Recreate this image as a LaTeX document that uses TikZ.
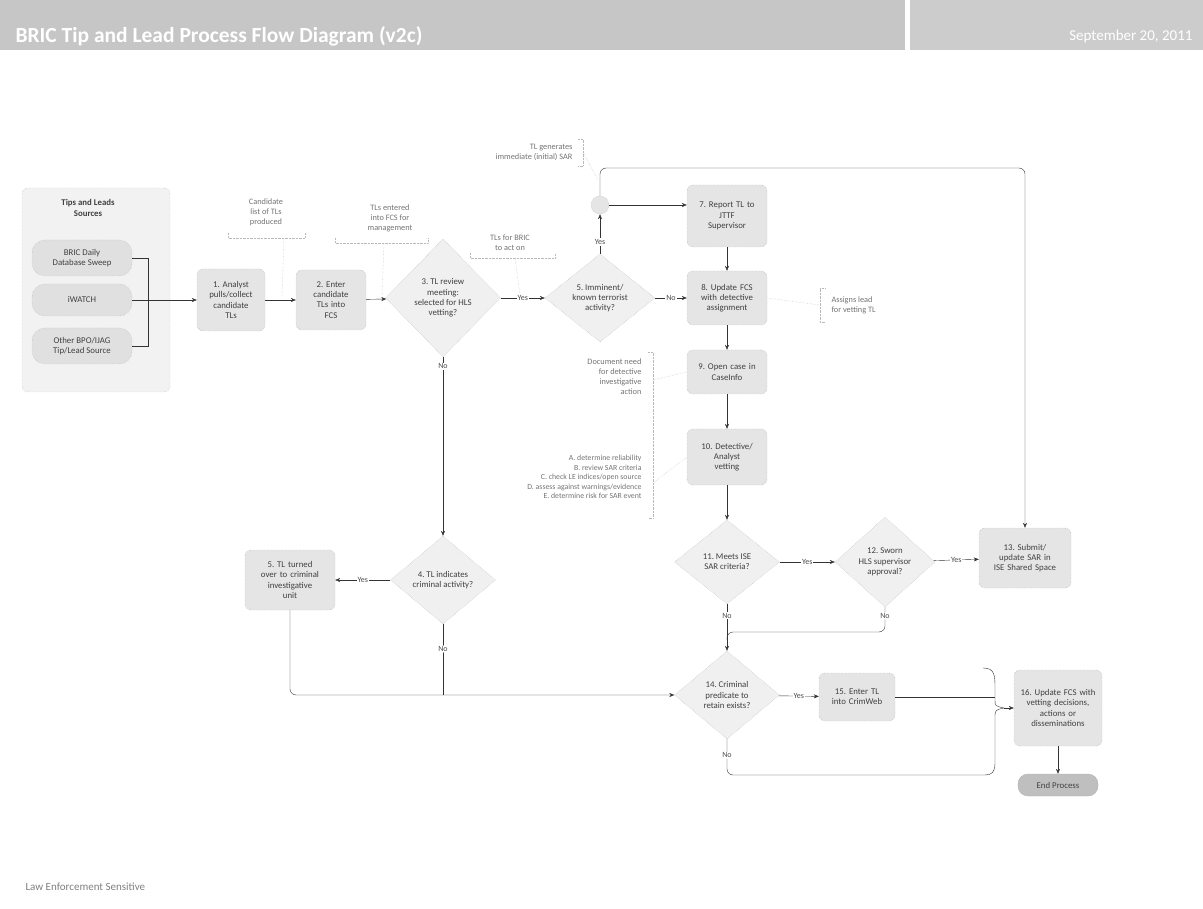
\documentclass[tikz,border=0pt]{standalone}
\usepackage{fontspec}
\setmainfont{Carlito}
\usetikzlibrary{shapes.geometric, arrows.meta, positioning, calc}
\frenchspacing

\begin{document}
\begin{tikzpicture}[
    x=1pt, y=-1pt,
    font=\fontsize{8.8}{10.2}\selectfont,
    stepbox/.style={rectangle, draw=gray!70, densely dotted, fill=gray!20, rounded corners=6pt, align=center, minimum width=80pt, minimum height=54pt, text width=76pt, inner sep=2pt, text=black!75},
    decision/.style={diamond, draw=gray!60, densely dotted, fill=gray!12, align=center, inner sep=0pt, minimum width=108pt, minimum height=88pt, text=black!75},
    source/.style={rectangle, rounded corners=13pt, draw=gray!60, densely dotted, fill=gray!24, minimum width=100pt, minimum height=36pt, align=center, text=black!75},
    note/.style={align=center, text=black!55, font=\fontsize{8.3}{10}\selectfont},
    arrow/.style={-{Stealth[length=5pt, width=4pt]}, black!80, thin},
    flow/.style={black!80, thin},
    bracket/.style={gray!55, densely dotted},
    lbl/.style={fill=white, inner sep=1pt, text=black!70, font=\fontsize{8}{9}\selectfont},
]
\useasboundingbox (0,0) rectangle (1203,909);

% header
\fill[gray!45] (0,0) rectangle (905,50);
\fill[gray!40] (910,0) rectangle (1203,50);
\node[anchor=west, text=white, font=\fontsize{21.5}{24}\selectfont\bfseries] (title) at (12,36) {BRIC Tip and Lead Process Flow Diagram (v2c)};
\node[anchor=east, text=white, font=\fontsize{15}{17}\selectfont] (date) at (1196,37) {September 20, 2011};

% sources
\node[rectangle, draw=gray!60, densely dotted, fill=gray!10, rounded corners=6pt, minimum width=148pt, minimum height=204pt] (srcbox) at (96,290) {};
\node[font=\fontsize{8.8}{10.5}\selectfont\bfseries, text=black!75, align=center] (srctitle) at (88,208) {Tips and Leads\\Sources};
\node[source] (bricsweep) at (82,258) {BRIC Daily\\Database Sweep};
\node[source, minimum height=32pt] (iwatch) at (82,300) {iWATCH};
\node[source] (othersrc) at (82,346) {Other BPO/IJAG\\Tip/Lead Source};

% main flow
\node[stepbox, minimum width=68pt, minimum height=62pt, text width=64pt] (analyst) at (231,300) {1. Analyst\\pulls/collect\\candidate\\TLs};
\node[stepbox, minimum width=70pt, minimum height=60pt, text width=64pt] (enterfcs) at (331,300) {2. Enter\\candidate\\TLs into\\FCS};
\node[decision, minimum width=115pt, minimum height=118pt] (review) at (443,298) {3. TL review\\meeting:\\selected for HLS\\vetting?};
\node[decision, minimum width=110pt] (imminent) at (600,298) {5. Imminent/\\known terrorist\\activity?};
\node[circle, draw=gray!60, densely dotted, fill=gray!20, minimum size=18pt, inner sep=0pt] (junc) at (600,205) {};
\node[stepbox, minimum height=62pt] (report) at (727,216) {7. Report TL to\\JTTF\\Supervisor};
\node[stepbox] (update) at (727,298) {8. Update FCS\\with detective\\assignment};
\node[stepbox, minimum height=44pt] (opencase) at (727,372) {9. Open case in\\CaseInfo};
\node[stepbox, minimum height=56pt] (vetting) at (727,457) {10. Detective/\\Analyst\\vetting};
\node[decision, minimum width=105pt, minimum height=84pt] (meets) at (727,562) {11. Meets ISE\\SAR criteria?};
\node[decision, minimum width=100pt, minimum height=90pt] (sworn) at (885,562) {12. Sworn\\HLS supervisor\\approval?};
\node[stepbox, minimum width=92pt, minimum height=60pt, text width=88pt] (submit) at (1025,558) {13. Submit/\\update SAR in\\ISE Shared Space};
\node[decision, minimum width=105pt] (indicates) at (443,580) {4. TL indicates\\criminal activity?};
\node[stepbox, minimum width=90pt, minimum height=60pt, text width=86pt] (crimunit) at (290,580) {5. TL turned\\over to criminal\\investigative\\unit};
\node[decision, minimum width=105pt] (predicate) at (727,695) {14. Criminal\\predicate to\\retain exists?};
\node[stepbox, minimum width=76pt, minimum height=48pt, text width=72pt] (crimdb) at (857,697) {15. Enter TL\\into CrimWeb};
\node[stepbox, minimum width=86pt, minimum height=76pt, text width=84pt] (finalupd) at (1058,708) {16. Update FCS with\\vetting decisions,\\actions or\\disseminations};
\node[rectangle, rounded corners=10pt, draw=gray!60, fill=gray!50, minimum width=80pt, minimum height=22pt, text=black!75] (endproc) at (1058,785) {End Process};

% notes
\node[note] (candnote) at (266,212) {Candidate\\list of TLs\\produced};
\node[note] (fcsnote) at (390,218) {TLs entered\\into FCS for\\management};
\node[note] (bricnote) at (510,243) {TLs for BRIC\\to act on};
\node[note, anchor=east, align=right] (sarnote) at (576,152) {TL generates\\immediate (initial) SAR};
\node[note, anchor=west, align=left] (leadnote) at (828,305) {Assigns lead\\for vetting TL};
\node[note, anchor=east, align=right] (docnote) at (645,377) {Document need\\for detective\\investigative\\action};
\node[note, anchor=east, align=right, font=\fontsize{7.8}{9.6}\selectfont] (stepsnote) at (645,477) {A. determine reliability\\B. review SAR criteria\\C. check LE indices/open source\\D. assess against warnings/evidence\\E. determine risk for SAR event};

% note brackets
\draw[bracket] (228,233) -- (228,238) -- (305,238) -- (305,233);
\draw[bracket] (284,238) -- (282,296);
\draw[bracket] (335,238) -- (335,243) -- (428,243) -- (428,238);
\draw[bracket] (384,243) -- (382,296);
\draw[bracket] (470,253) -- (470,258) -- (555,258) -- (555,253);
\draw[bracket] (515,258) -- (520,295);
\draw[bracket] (578,139) -- (583,139) -- (583,166) -- (578,166);
\draw[bracket] (583,152) -- (598,180);
\draw[bracket] (825,288) -- (820,288) -- (820,322) -- (825,322);
\draw[bracket] (update.east) -- (820,305);
\draw[bracket] (648,352) -- (653,352) -- (653,518) -- (648,518);
\draw[bracket] (653,380) -- (opencase.west);
\draw[bracket] (653,483) -- (vetting.west);

% sources brace
\draw[flow] (bricsweep.east) -- ++(16,0) |- (othersrc.east);
\draw[arrow] (iwatch.east) -- (analyst.west);

% connectors
\draw[arrow] (analyst) -- (enterfcs);
\draw[arrow] (enterfcs) -- (review);
\draw[arrow] (review) -- node[lbl]{Yes} (imminent);
\draw[arrow] (imminent.north) -- node[lbl, pos=0.3]{Yes} (junc.south);
\draw[arrow] (junc.east) -- (junc -| report.west);
\draw[arrow, rounded corners=6pt] (junc.north) -- (600,168) -- (1025,168) -- (submit.north);
\draw[arrow] (imminent) -- node[lbl]{No} (update);
\draw[arrow] (report) -- (update);
\draw[arrow] (update) -- (opencase);
\draw[arrow] (opencase) -- (vetting);
\draw[arrow] (vetting) -- (meets);
\draw[arrow] (meets) -- node[lbl]{Yes} (sworn);
\draw[arrow] (sworn) -- node[lbl]{Yes} (submit);
\draw[arrow] (meets.south) -- node[lbl, pos=0.25]{No} (predicate.north);
\draw[flow, rounded corners=6pt] (sworn.south) -- node[lbl, pos=0.35]{No} (885,632) -- (727,632) -- (727,640);
\draw[arrow] (review.south) -- node[lbl, pos=0.05]{No} (indicates.north);
\draw[arrow] (indicates) -- node[lbl]{Yes} (crimunit);
\draw[flow, rounded corners=6pt] (indicates.south) -- node[lbl, pos=0.35]{No} (443,695);
\draw[arrow, rounded corners=6pt] (crimunit.south) -- (290,695) -- (predicate.west);
\draw[arrow] (predicate) -- node[lbl]{Yes} (crimdb);
\draw[flow] (crimdb.east) -- (995,697);
\draw[flow, rounded corners=6pt] (predicate.south) -- node[lbl, pos=0.45]{No} (727,775) -- (985,775);

% merge brace
\coordinate (bracetip) at (1004,708);
\draw[flow] (983,668) .. controls (995,668) and (995,676) .. (995,688) -- (995,700) .. controls (995,706) .. (bracetip) .. controls (995,710) .. (995,718) -- (995,763) .. controls (995,772) and (992,775) .. (985,775);
\draw[arrow] (bracetip) -- (finalupd.west);
\draw[arrow] (finalupd) -- (endproc);

% footer
\node[anchor=west, text=black!50, font=\fontsize{11}{13}\selectfont] (footer) at (22,887) {Law Enforcement Sensitive};
\end{tikzpicture}
\end{document}
